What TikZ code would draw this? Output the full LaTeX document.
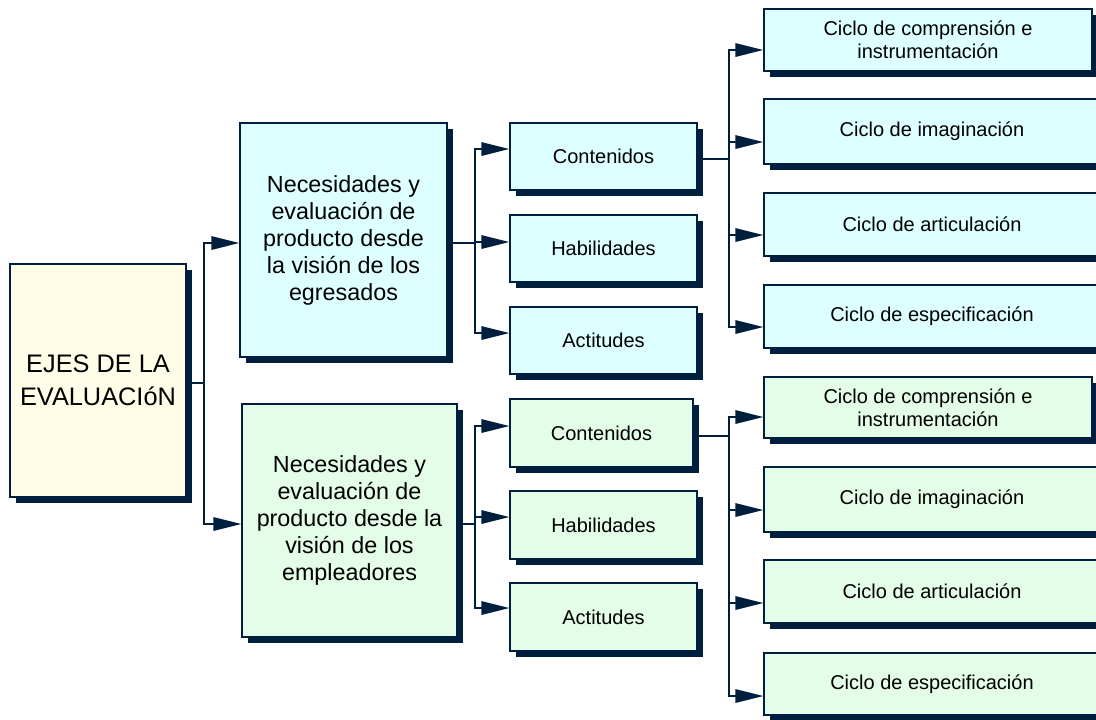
\documentclass[tikz,border=0pt]{standalone}
\usepackage{fontspec}
\setmainfont{Liberation Sans}
\usetikzlibrary{arrows.meta,shadows}
\definecolor{navy}{RGB}{0,30,62}
\definecolor{cyanfill}{RGB}{221,255,255}
\definecolor{greenfill}{RGB}{228,253,232}
\definecolor{yellowfill}{RGB}{255,253,232}
\begin{document}
\begin{tikzpicture}[x=0.75pt,y=-0.75pt,
  box/.style={draw=navy, line width=0.9pt, inner sep=0pt, align=center, text=black,
    drop shadow={shadow xshift=4.5pt, shadow yshift=-4.5pt, fill=navy, opacity=1}},
  sz/.style 2 args={minimum width=#1*0.75pt, minimum height=#2*0.75pt},
  rootbox/.style={box, fill=yellowfill, font=\fontsize{19}{24.75}\selectfont},
  midcyan/.style={box, fill=cyanfill, font=\fontsize{17.5}{20.25}\selectfont},
  midgreen/.style={box, fill=greenfill, font=\fontsize{17.5}{20.25}\selectfont},
  smallcyan/.style={box, fill=cyanfill, font=\fontsize{15}{17.25}\selectfont},
  smallgreen/.style={box, fill=greenfill, font=\fontsize{15}{17.25}\selectfont},
  conn/.style={draw=navy, line width=1.5pt},
  arr/.style={conn, -{Triangle[length=21pt,width=10pt]}}
]
\clip (0,0) rectangle (1096,719);
\fill[white] (0,0) rectangle (1096,719);

% root
\node[rootbox, sz={176}{233}] (root) at (98,380.5) {EJES DE LA\\EVALUACIóN};

% middle level
\node[midcyan, sz={207}{234}] (m1) at (343.5,240) {Necesidades y\\evaluación de\\producto desde\\la visión de los\\egresados};
\node[midgreen, sz={215}{233}] (m2) at (349.5,520.5) {Necesidades y\\evaluación de\\producto desde la\\visión de los\\empleadores};

% third level, cyan
\node[smallcyan, sz={187}{67}] (c1) at (603.5,156.5) {Contenidos};
\node[smallcyan, sz={187}{67}] (h1) at (603.5,248.5) {Habilidades};
\node[smallcyan, sz={187}{67}] (a1) at (603.5,340.5) {Actitudes};
% third level, green
\node[smallgreen, sz={183}{68}] (c2) at (601.5,433) {Contenidos};
\node[smallgreen, sz={187}{68}] (h2) at (603.5,525) {Habilidades};
\node[smallgreen, sz={187}{68}] (a2) at (603.5,617) {Actitudes};

% fourth level, cyan
\node[smallcyan, sz={328}{62}] (k1) at (928,40) {Ciclo de comprensión e\\instrumentación};
\node[smallcyan, sz={336}{65}] (i1) at (932,131.5) {Ciclo de imaginación};
\node[smallcyan, sz={336}{63}] (r1) at (932,224.5) {Ciclo de articulación};
\node[smallcyan, sz={336}{63}] (e1) at (932,316.5) {Ciclo de especificación};
% fourth level, green
\node[smallgreen, sz={328}{61}] (k2) at (928,407.5) {Ciclo de comprensión e\\instrumentación};
\node[smallgreen, sz={336}{65}] (i2) at (932,499.5) {Ciclo de imaginación};
\node[smallgreen, sz={336}{63}] (r2) at (932,591.5) {Ciclo de articulación};
\node[smallgreen, sz={336}{62}] (e2) at (932,684) {Ciclo de especificación};

% junctions
\coordinate (j0) at (204,383);
\coordinate (j1) at (475,243);
\coordinate (j2) at (475,524);
\coordinate (j3) at (729,159);
\coordinate (j4) at (729,436);

% root connectors
\draw[conn] (root.east |- j0) -- (j0);
\draw[arr] (j0) |- (m1.west |- 0,243);
\draw[arr] (j0) |- (m2.west |- 0,524);

% middle cyan connectors
\draw[conn] (m1.east |- j1) -- (j1);
\draw[arr] (j1) |- (c1.west |- 0,149);
\draw[arr] (j1) |- (h1.west |- 0,242);
\draw[arr] (j1) |- (a1.west |- 0,333);

% middle green connectors
\draw[conn] (m2.east |- j2) -- (j2);
\draw[arr] (j2) |- (c2.west |- 0,426);
\draw[arr] (j2) |- (h2.west |- 0,517);
\draw[arr] (j2) |- (a2.west |- 0,608);

% contenidos cyan connectors
\draw[conn] (c1.east |- j3) -- (j3);
\draw[arr] (j3) |- (k1.west |- 0,50);
\draw[arr] (j3) |- (i1.west |- 0,142);
\draw[arr] (j3) |- (r1.west |- 0,235);
\draw[arr] (j3) |- (e1.west |- 0,327);

% contenidos green connectors
\draw[conn] (c2.east |- j4) -- (j4);
\draw[arr] (j4) |- (k2.west |- 0,417);
\draw[arr] (j4) |- (i2.west |- 0,510);
\draw[arr] (j4) |- (r2.west |- 0,603);
\draw[arr] (j4) |- (e2.west |- 0,696);
\end{tikzpicture}
\end{document}
